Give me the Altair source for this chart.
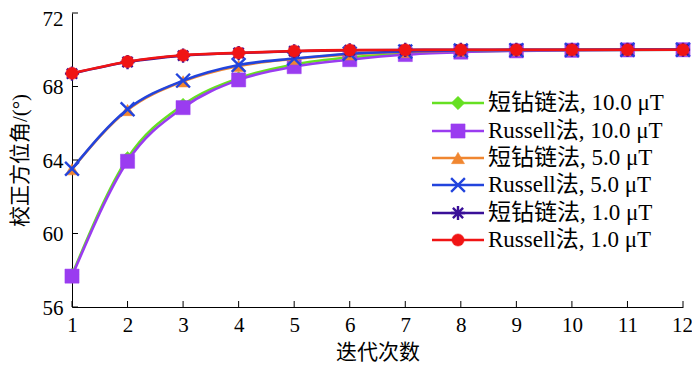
import altair as alt
import pandas as pd

# ---------------- data ----------------
iterations = [1, 2, 3, 4, 5, 6, 7, 8, 9, 10, 11, 12]
series_names = ["短钻链法, 10.0 μT", "Russell法, 10.0 μT", "短钻链法, 5.0 μT",
                "Russell法, 5.0 μT", "短钻链法, 1.0 μT", "Russell法, 1.0 μT"]
green_10 = [57.75, 64.10, 67.00, 68.45, 69.20, 69.58, 69.78, 69.89, 69.95, 69.98, 69.99, 70.00]
purple_10 = [57.68, 63.93, 66.85, 68.36, 69.08, 69.46, 69.74, 69.87, 69.94, 69.97, 69.99, 70.00]
orange_5 = [63.50, 66.72, 68.28, 69.12, 69.50, 69.75, 69.88, 69.95, 69.98, 69.99, 70.00, 70.00]
blue_5 = [63.52, 66.76, 68.32, 69.17, 69.52, 69.78, 69.90, 69.96, 69.98, 69.99, 70.00, 70.00]
indigo_1 = [68.70, 69.33, 69.68, 69.82, 69.92, 69.97, 69.99, 70.00, 70.00, 70.00, 70.00, 70.00]
red_1 = [68.72, 69.35, 69.70, 69.83, 69.93, 69.98, 69.99, 70.00, 70.00, 70.00, 70.00, 70.00]
series_values = [green_10, purple_10, orange_5, blue_5, indigo_1, red_1]
y_ticks = [56, 60, 64, 68, 72]

# ---------------- styles ----------------
colors = ["#66e022", "#9a3cf0", "#f08630", "#2244dd", "#3a1098", "#f01414"]
X_PATH = "M-1,-1L1,1M-1,1L1,-1"
AST_PATH = "M-1,0L1,0M0,-1L0,1M-0.72,-0.72L0.72,0.72M-0.72,0.72L0.72,-0.72"
shapes = ["diamond", "square", "triangle-up", X_PATH, AST_PATH, "circle"]
filled = [True, True, True, False, False, True]
sizes = [180, 200, 170, 190, 200, 150]

FONT = "Liberation Serif, Times New Roman, Noto Sans CJK SC"
LEFT, TOP = 64, 5
W, H = 611, 294
RIGHT = 684 - LEFT - W
BOTTOM = 355 - TOP - H
PAGE_TOP = 8 + TOP

xscale = alt.Scale(domain=[1, 12], nice=False, zero=False)
yscale = alt.Scale(domain=[56, 72], nice=False, zero=False)

xaxis = alt.Axis(values=iterations, format="d", title="迭代次数", grid=False,
                 ticks=False, tickSize=0, domainColor="black", domainWidth=1,
                 labelFont=FONT, labelFontSize=21, labelColor="black",
                 labelPadding=7, labelFlush=False, labelOverlap=False,
                 labelOffset={"condition": {"test": "datum.value == 12", "value": -1}, "value": 0},
                 titleFont=FONT, titleFontSize=21, titleFontWeight="normal",
                 titleColor="black", titlePadding=6)
yaxis = alt.Axis(values=y_ticks, format="d", title="校正方位角/(°)", grid=False,
                 ticks=False, tickSize=0, domainColor="black", domainWidth=1,
                 labelFont=FONT, labelFontSize=21, labelColor="black",
                 labelPadding=9, labelFlush=False, labelOverlap=False,
                 labelOffset={"condition": {"test": "datum.value == 72", "value": 6}, "value": 1},
                 titleFont=FONT, titleFontSize=21, titleFontWeight="normal",
                 titleColor="black", titlePadding=12)


def xenc(field):
    return alt.X(field, type="quantitative", scale=xscale, axis=xaxis)


def yenc(field):
    return alt.Y(field, type="quantitative", scale=yscale, axis=yaxis)


# legend placement (layout): page-pixel positions converted to data units
def px_to_x(px):
    return 1 + (px - 72) * 11 / W


def py_to_y(py):
    return 72 - (py - PAGE_TOP) * 16 / H


legend_rows_px = [103, 131, 158, 185, 213, 240]

layers = []
for i, name in enumerate(series_names):
    df = pd.DataFrame({"x": iterations, "y": series_values[i]})
    c = colors[i]
    layers.append(alt.Chart(df).mark_line(color=c, strokeWidth=2.6, interpolate="monotone")
                  .encode(x=xenc("x"), y=yenc("y")))
    if filled[i]:
        pm = dict(filled=True, fill=c, stroke=c, strokeWidth=0.5)
    else:
        pm = dict(filled=False, stroke=c, strokeWidth=2.4, fill="transparent")
    layers.append(alt.Chart(df).mark_point(shape=shapes[i], size=sizes[i], opacity=1, **pm)
                  .encode(x=xenc("x"), y=yenc("y")))

# legend
for i, name in enumerate(series_names):
    c = colors[i]
    ldf = pd.DataFrame({"lx1": [px_to_x(432)], "lx2": [px_to_x(484)],
                        "lm": [px_to_x(458)], "lt": [px_to_x(488)],
                        "ly": [py_to_y(legend_rows_px[i])], "label": [name]})
    layers.append(alt.Chart(ldf).mark_rule(color=c, strokeWidth=2.6)
                  .encode(x=xenc("lx1"), x2="lx2", y=yenc("ly")))
    if filled[i]:
        pm = dict(filled=True, fill=c, stroke=c, strokeWidth=0.5)
    else:
        pm = dict(filled=False, stroke=c, strokeWidth=2.4, fill="transparent")
    layers.append(alt.Chart(ldf).mark_point(shape=shapes[i], size=sizes[i], opacity=1, **pm)
                  .encode(x=xenc("lm"), y=yenc("ly")))
    layers.append(alt.Chart(ldf).mark_text(align="left", baseline="middle", font=FONT,
                                           fontSize=23, color="black")
                  .encode(x=xenc("lt"), y=yenc("ly"), text="label:N"))

# inward ticks
xt = pd.DataFrame({"x": iterations})
layers.append(alt.Chart(xt).mark_rule(color="black", strokeWidth=1)
              .encode(x=xenc("x"), y=alt.value(H), y2=alt.value(H - 6)))
yt = pd.DataFrame({"v": y_ticks})
layers.append(alt.Chart(yt).mark_rule(color="black", strokeWidth=1)
              .encode(y=yenc("v"), x=alt.value(0), x2=alt.value(6)))

chart = alt.layer(*layers).properties(
    width=W, height=H,
    autosize=alt.AutoSizeParams(type="none"),
    padding={"left": LEFT, "top": TOP, "right": RIGHT, "bottom": BOTTOM},
    background="white",
).configure_view(stroke=None)

chart.save("out.html", embed_options={"renderer": "svg", "actions": False})
